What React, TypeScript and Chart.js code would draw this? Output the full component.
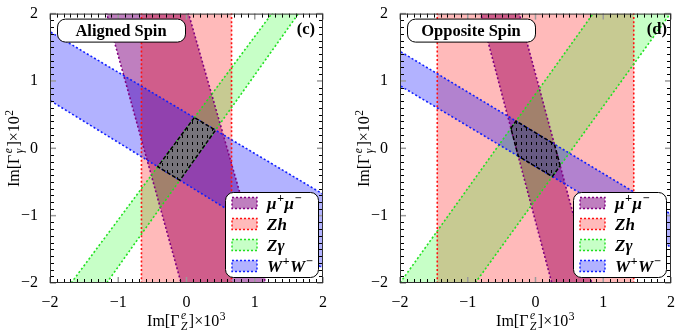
import React, { useEffect, useRef } from 'react';
import { Chart, registerables } from 'chart.js';

Chart.register(...registerables);

type Pt = { x: number; y: number };
type Line = [Pt, Pt];
type Band = [Line, Line];
type Part = { t: string; k: 'n' | 'sup' | 'stack'; s?: string };

// ---------- axes ----------
const AXIS_MIN = -2;
const AXIS_MAX = 2;
const MAJOR_TICKS = [-2, -1, 0, 1, 2];
const TICK_LABELS = ['−2', '−1', '0', '1', '2'];
const MINOR_STEP = 0.1;

// ---------- series (each band = two boundary lines, given by where they cross the frame) ----------
const SERIES_NAMES = ['μ+μ−', 'Zh', 'Zγ', 'W+W−'];

// (c) Aligned Spin
const ALIGNED_MUMU: Band = [
  [{ x: -1.17, y: 2 }, { x: -0.08, y: -2 }],
  [{ x: 0.03, y: 2 }, { x: 1.16, y: -2 }],
];
const ALIGNED_ZH: Band = [
  [{ x: -0.66, y: 2 }, { x: -0.66, y: -2 }],
  [{ x: 0.66, y: 2 }, { x: 0.66, y: -2 }],
];
const ALIGNED_ZGAMMA: Band = [
  [{ x: -1.69, y: -2 }, { x: 1.25, y: 2 }],
  [{ x: -1.17, y: -2 }, { x: 1.64, y: 2 }],
];
const ALIGNED_WW: Band = [
  [{ x: -2, y: 1.73 }, { x: 2, y: -0.68 }],
  [{ x: -2, y: 0.71 }, { x: 2, y: -1.78 }],
];

// (d) Opposite Spin
const OPPOSITE_MUMU: Band = [
  [{ x: -0.81, y: 2 }, { x: 0.24, y: -2 }],
  [{ x: -0.24, y: 2 }, { x: 0.83, y: -2 }],
];
const OPPOSITE_ZH: Band = [
  [{ x: -1.45, y: 2 }, { x: -1.45, y: -2 }],
  [{ x: 1.45, y: 2 }, { x: 1.45, y: -2 }],
];
const OPPOSITE_ZGAMMA: Band = [
  [{ x: -2, y: -2 }, { x: 0.85, y: 2 }],
  [{ x: -0.89, y: -2 }, { x: 1.99, y: 2 }],
];
const OPPOSITE_WW: Band = [
  [{ x: -2, y: 1.44 }, { x: 2, y: -0.98 }],
  [{ x: -2, y: 0.93 }, { x: 2, y: -1.47 }],
];

// ---------- text ----------
const LEGEND_LABELS: Part[][] = [
  [{ t: 'μ', k: 'n' }, { t: '+', k: 'sup' }, { t: 'μ', k: 'n' }, { t: '−', k: 'sup' }],
  [{ t: 'Zh', k: 'n' }],
  [{ t: 'Zγ', k: 'n' }],
  [{ t: 'W', k: 'n' }, { t: '+', k: 'sup' }, { t: 'W', k: 'n' }, { t: '−', k: 'sup' }],
];
const X_TITLE: Part[] = [
  { t: 'Im[Γ', k: 'n' },
  { t: 'e', k: 'stack', s: 'Z' },
  { t: ']×10', k: 'n' },
  { t: '3', k: 'sup' },
];
const Y_TITLE: Part[] = [
  { t: 'Im[Γ', k: 'n' },
  { t: 'e', k: 'stack', s: 'γ' },
  { t: ']×10', k: 'n' },
  { t: '2', k: 'sup' },
];

// ---------- style ----------
const FILL = ['rgba(128,0,128,0.5)', 'rgba(255,0,0,0.27)', 'rgba(0,255,0,0.22)', 'rgba(0,0,255,0.3)'];
const EDGE = ['#800080', '#ff1010', '#22e022', '#1020ff'];
const FAMILY = '"Liberation Serif", "Times New Roman", serif';

function fontOf(style: string, size: number) {
  return `${style} ${size}px ${FAMILY}`.trim();
}

// ---------- geometry helpers ----------
function clipHalf(poly: Pt[], a: Pt, b: Pt, keep: Pt): Pt[] {
  const side = (p: Pt) => (b.x - a.x) * (p.y - a.y) - (b.y - a.y) * (p.x - a.x);
  const s0 = Math.sign(side(keep)) || 1;
  const out: Pt[] = [];
  for (let i = 0; i < poly.length; i++) {
    const P = poly[i];
    const Q = poly[(i + 1) % poly.length];
    const sp = side(P) * s0;
    const sq = side(Q) * s0;
    if (sp >= 0) out.push(P);
    if ((sp >= 0) !== (sq >= 0)) {
      const t = sp / (sp - sq);
      out.push({ x: P.x + t * (Q.x - P.x), y: P.y + t * (Q.y - P.y) });
    }
  }
  return out;
}
const mid = (l: Line): Pt => ({ x: (l[0].x + l[1].x) / 2, y: (l[0].y + l[1].y) / 2 });
function clipBand(poly: Pt[], band: Band): Pt[] {
  let p = clipHalf(poly, band[0][0], band[0][1], mid(band[1]));
  p = clipHalf(p, band[1][0], band[1][1], mid(band[0]));
  return p;
}
const SQUARE: Pt[] = [
  { x: AXIS_MIN, y: AXIS_MIN },
  { x: AXIS_MAX, y: AXIS_MIN },
  { x: AXIS_MAX, y: AXIS_MAX },
  { x: AXIS_MIN, y: AXIS_MAX },
];
function closed(p: Pt[]): Pt[] {
  return p.length ? [...p, p[0]] : p;
}
function extend(l: Line): Pt[] {
  const dx = l[1].x - l[0].x;
  const dy = l[1].y - l[0].y;
  return [
    { x: l[0].x - dx * 0.05, y: l[0].y - dy * 0.05 },
    { x: l[1].x + dx * 0.05, y: l[1].y + dy * 0.05 },
  ];
}

// ---------- rich text ----------
function drawRich(
  ctx: CanvasRenderingContext2D,
  parts: Part[],
  x: number,
  y: number,
  size: number,
  style: string,
  align: 'center' | 'left'
) {
  const small = size * 0.72;
  const items: { p: Part; x: number }[] = [];
  let w = 0;
  for (const p of parts) {
    if (p.k === 'n') {
      ctx.font = fontOf(style, size);
      items.push({ p, x: w });
      w += ctx.measureText(p.t).width;
    } else if (p.k === 'sup') {
      ctx.font = fontOf(style, small);
      items.push({ p, x: w + 0.5 });
      w += ctx.measureText(p.t).width + 1;
    } else {
      ctx.font = fontOf('italic', small);
      const pw = Math.max(ctx.measureText(p.t).width, ctx.measureText(p.s || '').width);
      items.push({ p, x: w + 1.5 });
      w += pw + 3;
    }
  }
  const x0 = align === 'center' ? x - w / 2 : x;
  ctx.textAlign = 'left';
  ctx.textBaseline = 'alphabetic';
  ctx.fillStyle = '#000';
  for (const it of items) {
    const p = it.p;
    if (p.k === 'n') {
      ctx.font = fontOf(style, size);
      ctx.fillText(p.t, x0 + it.x, y);
    } else if (p.k === 'sup') {
      ctx.font = fontOf(style, small);
      ctx.fillText(p.t, x0 + it.x, y - size * 0.4);
    } else {
      ctx.font = fontOf('italic', small);
      ctx.fillText(p.t, x0 + it.x, y - size * 0.42);
      ctx.fillText(p.s || '', x0 + it.x, y + size * 0.22);
    }
  }
}

function rrect(ctx: CanvasRenderingContext2D, x: number, y: number, w: number, h: number, r: number) {
  ctx.beginPath();
  ctx.moveTo(x + r, y);
  ctx.lineTo(x + w - r, y);
  ctx.arcTo(x + w, y, x + w, y + r, r);
  ctx.lineTo(x + w, y + h - r);
  ctx.arcTo(x + w, y + h, x + w - r, y + h, r);
  ctx.lineTo(x + r, y + h);
  ctx.arcTo(x, y + h, x, y + h - r, r);
  ctx.lineTo(x, y + r);
  ctx.arcTo(x, y, x + r, y, r);
  ctx.closePath();
}

function makePattern(bg: string): CanvasPattern | string {
  const c = document.createElement('canvas');
  c.width = 5;
  c.height = 7;
  const g = c.getContext('2d');
  if (!g) return bg;
  g.fillStyle = bg;
  g.fillRect(0, 0, 5, 7);
  g.fillStyle = '#000';
  g.fillRect(2, 2, 1, 3);
  return g.createPattern(c, 'repeat') || bg;
}

type PanelProps = {
  bands: Band[];
  title: string;
  tag: string;
  tagInset: number;
  hatchBg: string;
  width: number;
  axisWidth: number;
  rightPad: number;
};

function Panel({ bands, title, tag, tagInset, hatchBg, width, axisWidth, rightPad }: PanelProps) {
  const ref = useRef<HTMLCanvasElement>(null);
  useEffect(() => {
    const canvas = ref.current;
    if (!canvas) return;
    const datasets: any[] = [];
    bands.forEach((band, i) => {
      datasets.push({
        label: SERIES_NAMES[i],
        data: closed(clipBand(SQUARE, band)),
        showLine: true,
        fill: 'shape',
        backgroundColor: FILL[i],
        borderColor: 'rgba(0,0,0,0)',
        borderWidth: 0,
        pointRadius: 0,
        order: 40 - i,
      });
    });
    bands.forEach((band, i) => {
      band.forEach((ln) => {
        datasets.push({
          label: SERIES_NAMES[i] + ' edge',
          data: extend(ln),
          showLine: true,
          fill: false,
          borderColor: EDGE[i],
          borderWidth: 1.6,
          borderDash: [2, 2.2],
          pointRadius: 0,
          order: 20 - i,
        });
      });
    });
    let hatch = SQUARE;
    bands.forEach((b) => {
      hatch = clipBand(hatch, b);
    });
    datasets.push({
      label: 'allowed',
      data: closed(hatch),
      showLine: true,
      fill: 'shape',
      backgroundColor: makePattern(hatchBg),
      borderColor: '#000',
      borderWidth: 1.5,
      borderDash: [4, 2],
      pointRadius: 0,
      order: 0,
    });

    const decor = {
      id: 'decor',
      afterDraw(chart: any) {
        const ctx: CanvasRenderingContext2D = chart.ctx;
        const a = chart.chartArea;
        const xs = chart.scales.x;
        const ys = chart.scales.y;
        ctx.save();
        const seg = (x1: number, y1: number, x2: number, y2: number) => {
          ctx.beginPath();
          ctx.moveTo(x1, y1);
          ctx.lineTo(x2, y2);
          ctx.stroke();
        };
        // minor ticks
        ctx.strokeStyle = '#000';
        ctx.lineWidth = 1;
        const n = Math.round((AXIS_MAX - AXIS_MIN) / MINOR_STEP);
        for (let i = 0; i <= n; i++) {
          const v = AXIS_MIN + i * MINOR_STEP;
          if (MAJOR_TICKS.some((m) => Math.abs(m - v) < 1e-6)) continue;
          const px = Math.round(xs.getPixelForValue(v)) + 0.5;
          const py = Math.round(ys.getPixelForValue(v)) + 0.5;
          seg(px, a.bottom, px, a.bottom - 4);
          seg(px, a.top, px, a.top + 4);
          seg(a.left, py, a.left + 4, py);
          seg(a.right, py, a.right - 4, py);
        }
        // major ticks
        ctx.strokeStyle = '#9a9a9a';
        ctx.lineWidth = 1.5;
        for (const v of MAJOR_TICKS) {
          const px = xs.getPixelForValue(v);
          const py = ys.getPixelForValue(v);
          seg(px, a.bottom, px, a.bottom - 6);
          seg(px, a.top, px, a.top + 6);
          seg(a.left, py, a.left + 6, py);
          seg(a.right, py, a.right - 6, py);
        }
        // frame
        ctx.strokeStyle = '#333';
        ctx.lineWidth = 1;
        ctx.strokeRect(a.left + 0.5, a.top + 0.5, a.right - a.left - 1, a.bottom - a.top - 1);

        // axis titles
        drawRich(ctx, X_TITLE, (a.left + a.right) / 2, 326, 16, '', 'center');
        ctx.save();
        ctx.translate(a.left - 31, (a.top + a.bottom) / 2);
        ctx.rotate(-Math.PI / 2);
        drawRich(ctx, Y_TITLE, 0, 0, 16, '', 'center');
        ctx.restore();

        // panel title box
        const bx = a.left + 7;
        const by = a.top + 5;
        const bw = 128;
        const bh = 23;
        rrect(ctx, bx + 0.5, by + 0.5, bw, bh, 8);
        ctx.fillStyle = '#fff';
        ctx.fill();
        ctx.strokeStyle = '#000';
        ctx.lineWidth = 1;
        ctx.stroke();
        ctx.fillStyle = '#000';
        ctx.font = fontOf('bold', 16.5);
        ctx.textAlign = 'center';
        ctx.textBaseline = 'alphabetic';
        ctx.fillText(title, bx + bw / 2, by + bh / 2 + 5.5);
        ctx.textAlign = 'right';
        ctx.fillText(tag, a.right - tagInset, a.top + 20);

        // legend
        const lw = 93;
        const lx = a.right - 5 - lw;
        const ly = 192;
        const lh = a.bottom - 6 - ly;
        rrect(ctx, lx + 0.5, ly + 0.5, lw, lh, 8);
        ctx.fillStyle = '#fff';
        ctx.fill();
        ctx.strokeStyle = '#000';
        ctx.lineWidth = 1;
        ctx.stroke();
        for (let i = 0; i < SERIES_NAMES.length; i++) {
          const cy = ly + 11 + i * 21;
          const sx = lx + 7;
          const sy = cy - 5.5;
          ctx.fillStyle = FILL[i];
          ctx.fillRect(sx, sy, 25, 11);
          ctx.setLineDash([2, 2]);
          ctx.strokeStyle = EDGE[i];
          ctx.lineWidth = 1.4;
          ctx.strokeRect(sx, sy, 25, 11);
          ctx.setLineDash([]);
          drawRich(ctx, LEGEND_LABELS[i], lx + 42, cy + 5.5, 17, 'bold italic', 'left');
        }
        ctx.restore();
      },
    };

    const tickCb = (v: any) => {
      const i = MAJOR_TICKS.findIndex((m) => Math.abs(m - Number(v)) < 1e-9);
      return i >= 0 ? TICK_LABELS[i] : '';
    };

    const chart = new Chart(canvas, {
      type: 'scatter',
      data: { datasets },
      options: {
        animation: false,
        responsive: false,
        events: [],
        layout: { padding: { top: 10, right: rightPad, left: 0, bottom: 0 } },
        plugins: { legend: { display: false }, tooltip: { enabled: false } },
        scales: {
          x: {
            type: 'linear',
            min: AXIS_MIN,
            max: AXIS_MAX,
            grid: { display: false },
            border: { display: false },
            ticks: {
              stepSize: 1,
              autoSkip: false,
              maxRotation: 0,
              padding: 2,
              color: '#000',
              font: { family: FAMILY, size: 16 },
              callback: tickCb,
            },
            afterFit: (s: any) => {
              s.height = 50;
            },
          },
          y: {
            type: 'linear',
            min: AXIS_MIN,
            max: AXIS_MAX,
            grid: { display: false },
            border: { display: false },
            ticks: {
              stepSize: 1,
              autoSkip: false,
              padding: 4,
              color: '#000',
              font: { family: FAMILY, size: 16 },
              callback: tickCb,
            },
            afterFit: (s: any) => {
              s.width = axisWidth;
            },
          },
        },
      } as any,
      plugins: [decor],
    });
    return () => chart.destroy();
  }, []);
  return <canvas ref={ref} width={width} height={333} style={{ display: 'block' }} />;
}

export default function App() {
  return (
    <div
      style={{
        position: 'fixed',
        left: 0,
        top: 0,
        width: 679,
        height: 333,
        display: 'flex',
        background: '#fff',
      }}
    >
      <Panel
        bands={[ALIGNED_MUMU, ALIGNED_ZH, ALIGNED_ZGAMMA, ALIGNED_WW]}
        title="Aligned Spin"
        tag="(c)"
        tagInset={8}
        hatchBg="rgba(120,120,120,0.9)"
        width={339}
        axisWidth={50}
        rightPad={16}
      />
      <Panel
        bands={[OPPOSITE_MUMU, OPPOSITE_ZH, OPPOSITE_ZGAMMA, OPPOSITE_WW]}
        title="Opposite Spin"
        tag="(d)"
        tagInset={4}
        hatchBg="rgba(90,90,105,0.45)"
        width={340}
        axisWidth={61}
        rightPad={8}
      />
    </div>
  );
}
